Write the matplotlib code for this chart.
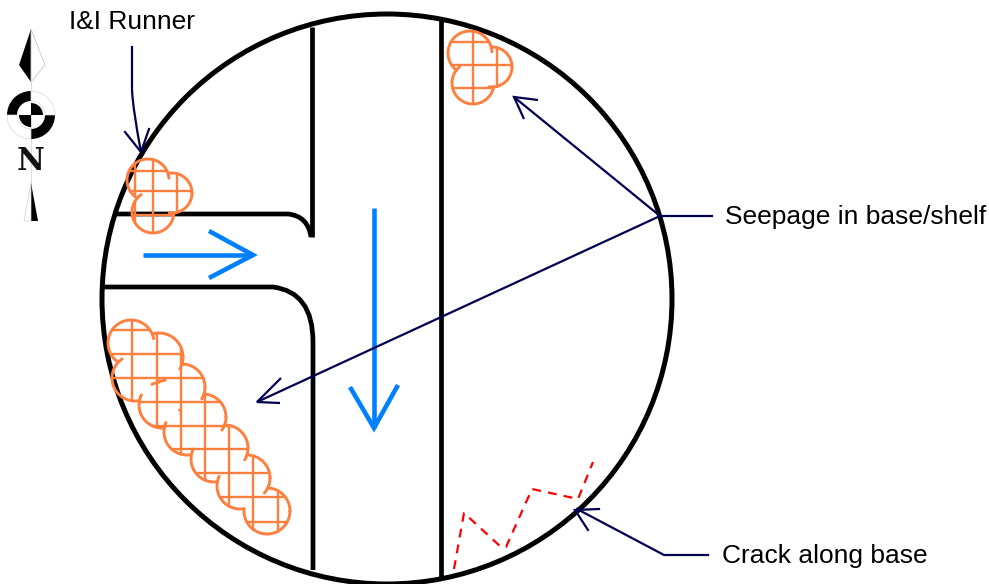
import numpy as np
import matplotlib
matplotlib.use("Agg")
import matplotlib.pyplot as plt
from matplotlib.path import Path
from matplotlib.patches import PathPatch, Circle, Polygon, Wedge

W, H = 989, 584
BLACK = "#000000"
ORANGE = "#ff7f3f"
NAVY = "#000050"
BLUE = "#0080ff"
RED = "#ff0000"

# everything below is in picture pixels (y pointing down)
ring_center = (387, 299)
ring_radius = 285

# (x, y, r) of each lobe of the seepage clouds
cloud_runner = [(148, 180, 21), (172, 193, 20), (153, 212, 21)]
cloud_runner_x = [135, 153, 177]
cloud_runner_y = [171, 191, 215]
cloud_runner_tails = [(0, 1), (2, 0), (1, 2)]

cloud_top = [(470, 53, 22), (492, 67, 20), (473, 83, 21)]
cloud_top_x = [473, 497]
cloud_top_y = [42, 65, 88]
cloud_top_tails = [(0, 1), (2, 0), (1, 2)]

cloud_long = [(131, 343, 23), (159, 357, 24), (135, 378, 23), (182, 387, 23),
              (162, 405, 23), (203, 417, 23), (187, 432, 23), (225, 448, 23),
              (214, 459, 23), (247, 478, 23), (240, 486, 23), (267, 511, 23)]
cloud_long_x = [132, 157, 181, 205, 229, 253, 278]
cloud_long_y = [330, 354, 378, 402, 426, 449, 473, 497, 522]
cloud_long_tails = [(0, 1), (1, 3), (3, 5), (5, 7), (7, 9), (9, 11),
                    (2, 0), (4, 2), (6, 4), (8, 6), (10, 8)]

crack_x = [454, 464, 501, 506, 532, 578, 593]
crack_y = [569, 513, 547, 547, 489, 499, 462]

labels = ["I&I Runner", "Seepage in base/shelf", "Crack along base"]
label_x = [69, 725, 722]
label_y = [22, 217, 556]

plt.rcParams["font.family"] = ["Liberation Sans", "DejaVu Sans"]

fig = plt.figure(figsize=(W / 100, H / 100), dpi=100)
ax = fig.add_axes([0, 0, 1, 1])
ax.set_xlim(0, W)
ax.set_ylim(H, 0)
ax.axis("off")


def draw_curve(verts, codes, color=BLACK, lw=3.4):
    ax.add_patch(PathPatch(Path(verts, codes), fc="none", ec=color, lw=lw, capstyle="butt"))


def draw_arrow(x0, y0, x1, y1, head1, head2, color, lw):
    ax.plot([x0, x1], [y0, y1], color=color, lw=lw, solid_capstyle="butt")
    ax.plot([head1[0], x1, head2[0]], [head1[1], y1, head2[1]], color=color, lw=lw,
            solid_joinstyle="miter", solid_capstyle="butt")


def inside(px, py, lobes):
    hit = np.zeros_like(px, dtype=bool)
    for cx, cy, r in lobes:
        hit |= (px - cx) ** 2 + (py - cy) ** 2 < r ** 2
    return hit


def draw_cloud(lobes, xs, ys, tails):
    # outline: each lobe without the part buried in the others,
    # except a short tail poking into the next lobe
    for i, (cx, cy, r) in enumerate(lobes):
        t = np.linspace(0, 2 * np.pi, 361)
        px = cx + r * np.cos(t)
        py = cy + r * np.sin(t)
        others = []
        for j, lobe in enumerate(lobes):
            if j == i:
                continue
            if (i, j) in tails:
                others.append((lobe[0], lobe[1], lobe[2] - 5))
            else:
                others.append(lobe)
        keep = ~inside(px, py, others)
        ax.plot(np.where(keep, px, np.nan), np.where(keep, py, np.nan),
                color=ORANGE, lw=2.1, zorder=4, solid_capstyle="round")
    # crosshatch only inside the lobes
    for x in xs:
        py = np.linspace(0, H, 2000)
        px = np.full_like(py, x)
        ax.plot(px, np.where(inside(px, py, lobes), py, np.nan), color=ORANGE, lw=1.7, zorder=4)
    for y in ys:
        px = np.linspace(0, W, 3000)
        py = np.full_like(px, y)
        ax.plot(np.where(inside(px, py, lobes), px, np.nan), py, color=ORANGE, lw=1.7, zorder=4)


# north arrow
ax.plot([31, 31], [82, 215], color="#dddddd", lw=0.8, zorder=0)
ax.add_patch(Polygon([(31, 29), (19, 65), (31, 82)], fc=BLACK, ec="none"))
ax.add_patch(Polygon([(31, 29), (45, 65), (31, 82)], fc="white", ec="#c8c8c8", lw=0.6))
ax.add_patch(Wedge((31, 115), 24, 180, 270, width=10, fc=BLACK, ec="none"))
ax.add_patch(Wedge((31, 115), 24, 0, 90, width=10, fc=BLACK, ec="none"))
ax.add_patch(Wedge((31, 115), 24, 270, 360, width=10, fc="white", ec="#d8d8d8", lw=0.5))
ax.add_patch(Wedge((31, 115), 24, 90, 180, width=10, fc="white", ec="#d8d8d8", lw=0.5))
ax.add_patch(Wedge((31, 115), 12, 90, 180, fc=BLACK, ec="none"))
ax.add_patch(Wedge((31, 115), 12, 270, 360, fc=BLACK, ec="none"))
ax.text(31, 162, "N", family="DejaVu Serif", weight="bold", fontsize=22, ha="center",
        va="center", color="#111111")
ax.add_patch(Polygon([(31, 183), (38, 221), (31, 221)], fc=BLACK, ec="none"))
ax.add_patch(Polygon([(31, 183), (24, 221), (31, 221)], fc="white", ec="#d0d0d0", lw=0.5))

# ring and channels
ax.add_patch(Circle(ring_center, ring_radius, fc="none", ec=BLACK, lw=3.6))
ax.plot([441, 441], [19, 579], color=BLACK, lw=3.4, solid_capstyle="butt")
ax.plot([312, 312], [27, 237], color=BLACK, lw=3.4, solid_capstyle="butt")
draw_curve([(115, 214), (288, 214), (308, 216), (311, 237)],
           [Path.MOVETO, Path.LINETO, Path.CURVE3, Path.CURVE3])
draw_curve([(102, 287), (273, 287), (313, 292), (313, 342), (313, 570)],
           [Path.MOVETO, Path.LINETO, Path.CURVE3, Path.CURVE3, Path.LINETO])

# flow arrows
draw_arrow(143, 255, 253, 255, (209, 231), (209, 278), BLUE, 3.3)
draw_arrow(374, 208, 374, 428, (350, 387), (398, 385), BLUE, 3.3)

draw_cloud(cloud_runner, cloud_runner_x, cloud_runner_y, cloud_runner_tails)
draw_cloud(cloud_top, cloud_top_x, cloud_top_y, cloud_top_tails)
draw_cloud(cloud_long, cloud_long_x, cloud_long_y, cloud_long_tails)

# crack
ax.plot(crack_x, crack_y, color=RED, lw=1.6, dashes=(4, 3.2), zorder=3)

# callouts
draw_curve([(132, 46), (132, 90), (133, 110), (141, 152)],
           [Path.MOVETO, Path.LINETO, Path.CURVE3, Path.CURVE3], color=NAVY, lw=1.6)
ax.plot([125, 141, 149], [132, 152, 129], color=NAVY, lw=1.6, solid_joinstyle="miter")
draw_arrow(660, 216, 514, 97, (538, 100), (524, 119), NAVY, 1.6)
draw_arrow(660, 216, 257, 402, (281, 378), (280, 403), NAVY, 1.6)
ax.plot([660, 712], [216, 216], color=NAVY, lw=1.6)
ax.plot([708, 664, 577], [555, 555, 509], color=NAVY, lw=1.6)
ax.plot([599, 575, 588], [509, 510, 530], color=NAVY, lw=1.6, solid_joinstyle="miter")

for text, x, y in zip(labels, label_x, label_y):
    ax.text(x, y, text, fontsize=19, ha="left", va="center", color="#000000")

fig.savefig("out.png", dpi=100)
